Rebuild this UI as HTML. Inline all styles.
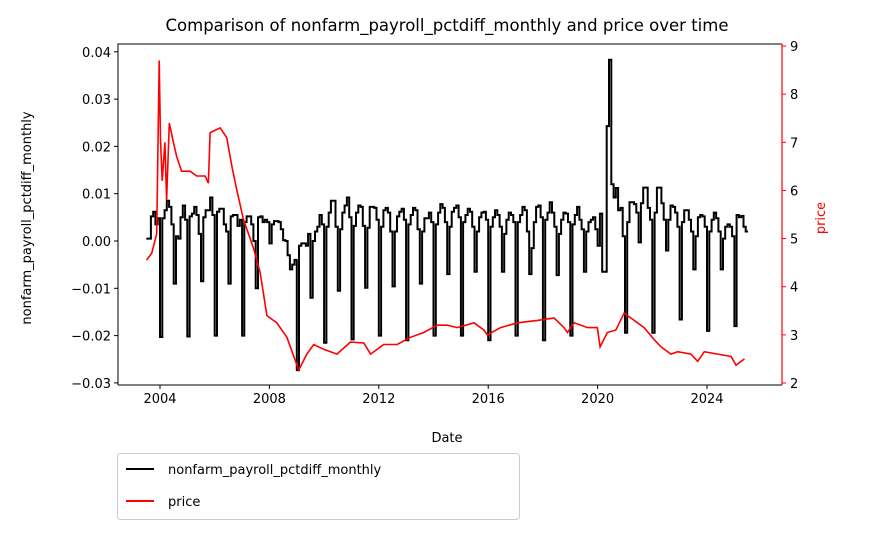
<!DOCTYPE html>
<html><head><meta charset="utf-8"><style>
body{margin:0;background:#fff}
svg text{font-family:"DejaVu Sans","Liberation Sans",sans-serif}
</style></head><body>
<svg id="chart" width="869" height="534" viewBox="0 0 869 534" xmlns="http://www.w3.org/2000/svg">
<text x="447" y="31" font-size="16.5" text-anchor="middle">Comparison of nonfarm_payroll_pctdiff_monthly and price over time</text>
<g id="plot"></g>
<text x="447" y="442" font-size="13" text-anchor="middle">Date</text>
<text transform="translate(31,218) rotate(-90)" font-size="13" text-anchor="middle">nonfarm_payroll_pctdiff_monthly</text>
<text transform="translate(825,218) rotate(-90)" font-size="13" text-anchor="middle" fill="#ff0000">price</text>
<g>
<rect x="117.5" y="453.5" width="402" height="66" rx="3" fill="#fff" stroke="#ccc"/>
<line x1="126" y1="469" x2="154" y2="469" stroke="#000" stroke-width="2"/>
<text x="168" y="474" font-size="13">nonfarm_payroll_pctdiff_monthly</text>
<line x1="126" y1="501" x2="154" y2="501" stroke="#ff0000" stroke-width="2"/>
<text x="168" y="506" font-size="13">price</text>
</g>
</svg>
<script>
const xTicks=[2004,2008,2012,2016,2020,2024];
const leftTicks=[0.04,0.03,0.02,0.01,0.00,-0.01,-0.02,-0.03];
const leftTickLabels=["0.04","0.03","0.02","0.01","0.00","−0.01","−0.02","−0.03"];
const rightTicks=[2,3,4,5,6,7,8,9];
const payrollStart=2003.5;
const payroll=[
0.0005,0.0005,0.0052,0.0062,0.0035,0.0048,
-0.0203,0.0048,0.0065,0.0085,0.0072,0.0035,-0.009,0.001,0.0005,0.005,0.0075,0.0045,
-0.0202,0.0052,0.0058,0.0072,0.0055,0.0015,-0.0085,0.005,0.0065,0.0065,0.0092,0.0055,
-0.0200,0.0062,0.0068,0.0068,0.0035,0.0020,-0.009,0.0052,0.0055,0.0055,0.0032,0.0045,
-0.0200,0.0040,0.0052,0.0052,0.0035,0.0000,-0.0100,0.0050,0.0052,0.0040,0.0045,0.0040,
-0.0005,0.0035,0.0042,0.0042,0.0040,0.0025,0.0002,0.0000,-0.0030,-0.0060,-0.0050,-0.0040,
-0.0273,-0.0010,-0.0005,-0.0005,-0.0010,0.0015,-0.0120,0.0000,0.0020,0.0030,0.0055,0.0035,
-0.0215,0.0030,0.0060,0.0085,0.0085,0.0030,-0.0105,0.0025,0.0060,0.0075,0.0092,0.0050,
-0.0208,0.0032,0.0060,0.0075,0.0072,0.0032,-0.0099,0.0028,0.0072,0.0072,0.0070,0.0045,
-0.0200,0.0030,0.0065,0.0070,0.0060,0.0020,-0.0096,0.0020,0.0052,0.0062,0.0068,0.0045,
-0.0210,0.0035,0.0055,0.0070,0.0065,0.0025,-0.0090,0.0020,0.0048,0.0048,0.0060,0.0040,
-0.0200,0.0035,0.0060,0.0078,0.0070,0.0040,-0.0070,0.0030,0.0062,0.0070,0.0075,0.0050,
-0.0200,0.0040,0.0055,0.0068,0.0062,0.0030,-0.0065,0.0020,0.0050,0.0060,0.0062,0.0045,
-0.0210,0.0030,0.0050,0.0065,0.0055,0.0030,-0.0065,0.0015,0.0045,0.0060,0.0055,0.0040,
-0.0200,0.0040,0.0055,0.0072,0.0065,0.0020,-0.0070,-0.0015,0.0040,0.0072,0.0075,0.0050,
-0.0210,0.0045,0.0060,0.0082,0.0060,0.0030,-0.0072,0.0015,0.0045,0.0060,0.0058,0.0040,
-0.0200,0.0035,0.0055,0.0072,0.0045,0.0025,-0.0065,0.0020,0.0040,0.0045,0.0050,0.0025,
-0.0010,0.0058,-0.0065,-0.0065,0.0243,0.0383,0.0120,0.0092,0.0112,0.0065,0.0070,0.0010,
-0.0194,0.0040,0.0082,0.0082,0.0078,0.0060,-0.0003,0.0080,0.0113,0.0113,0.0070,0.0045,
-0.0194,0.0060,0.0113,0.0113,0.0080,0.0045,-0.0020,0.0045,0.0075,0.0072,0.0060,0.0030,
-0.0166,0.0040,0.0065,0.0065,0.0045,0.0020,-0.0060,0.0010,0.0050,0.0055,0.0052,0.0030,
-0.0190,0.0020,0.0045,0.0060,0.0048,0.0020,-0.0060,0.0005,0.0030,0.0035,0.0030,0.0010,
-0.0180,0.0055,0.0050,0.0053,0.0030,0.0020];
const priceDates=[2003.51,2003.7,2003.88,2003.97,2004.02,2004.08,2004.18,2004.24,2004.34,2004.49,2004.61,2004.79,2005.1,2005.34,2005.65,2005.77,2005.83,2006.2,2006.44,2006.63,2006.81,2007.05,2007.42,2007.66,2007.91,2008.27,2008.64,2009.07,2009.37,2009.62,2009.98,2010.47,2010.96,2011.45,2011.7,2012.18,2012.67,2013.16,2013.64,2014.14,2014.5,2014.87,2015.48,2015.84,2015.97,2016.45,2017.07,2017.8,2018.41,2018.77,2018.9,2019.14,2019.63,2019.99,2020.09,2020.36,2020.67,2020.97,2021.34,2021.7,2022.07,2022.32,2022.68,2022.93,2023.41,2023.66,2023.9,2024.39,2024.88,2025.06,2025.37];
const priceValues=[4.55,4.7,5.1,8.7,7.05,6.2,7.0,5.8,7.4,7.0,6.7,6.4,6.4,6.3,6.3,6.15,7.2,7.3,7.1,6.5,6.0,5.4,4.8,4.3,3.4,3.25,2.95,2.27,2.6,2.8,2.7,2.6,2.85,2.83,2.6,2.8,2.8,2.95,3.05,3.2,3.2,3.15,3.25,3.1,3.0,3.15,3.25,3.3,3.35,3.15,3.05,3.25,3.15,3.15,2.75,3.05,3.1,3.45,3.3,3.15,2.9,2.75,2.6,2.65,2.6,2.45,2.65,2.6,2.55,2.37,2.5];

const L=118,R=782,T=44,B=385;
const xS=y=>160+(y-2004)*27.35;
const yL=v=>241-v*4730;
const yR=p=>383-(p-2)*48.14;
const NS="http://www.w3.org/2000/svg";
const g=document.getElementById('plot');
function mk(tag,attrs){const e=document.createElementNS(NS,tag);for(const k in attrs)e.setAttribute(k,attrs[k]);g.appendChild(e);return e;}

// payroll step line
let d="";
payroll.forEach((v,i)=>{const x0=xS(payrollStart+i/12),x1=xS(payrollStart+(i+1)/12),y=yL(v);d+=(i?"L":"M")+x0.toFixed(1)+","+y.toFixed(1)+"L"+x1.toFixed(1)+","+y.toFixed(1);});
const pl=mk('path',{d:d,fill:'none',stroke:'#000','stroke-width':2,'stroke-linejoin':'miter'});



let d2="";
priceDates.forEach((t,i)=>{d2+=(i?"L":"M")+xS(t).toFixed(1)+","+yR(priceValues[i]).toFixed(1);});
const pr=mk('path',{d:d2,fill:'none',stroke:'#ff0000','stroke-width':1.6});



// spines
const fr=mk('path',{d:`M${L},${B}L${L},${T}L${R},${T}M${L},${B}L${R},${B}`,fill:'none',stroke:'#000','stroke-width':1});


const rs=mk('line',{x1:R,y1:T,x2:R,y2:B,stroke:'#ff0000','stroke-width':1.2});



xTicks.forEach(t=>{const x=xS(t);
 const l=mk('line',{x1:x,y1:B,x2:x,y2:B+4,stroke:'#000'});
 
 
 const tx=mk('text',{x:x,y:B+18,'font-size':13,'text-anchor':'middle'});tx.textContent=t;
 
 
});
leftTicks.forEach((v,i)=>{const y=yL(v);
 const l=mk('line',{x1:L-4,y1:y,x2:L,y2:y,stroke:'#000'});
 
 
 const tx=mk('text',{x:L-7,y:y+5,'font-size':13,'text-anchor':'end'});tx.textContent=leftTickLabels[i];
 
 
});
rightTicks.forEach(p=>{const y=yR(p);
 const l=mk('line',{x1:R,y1:y,x2:R+4,y2:y,stroke:'#ff0000'});
 
 
 const tx=mk('text',{x:R+8,y:y+5,'font-size':13});tx.textContent=p;
 
 
});
</script>
</body></html>
